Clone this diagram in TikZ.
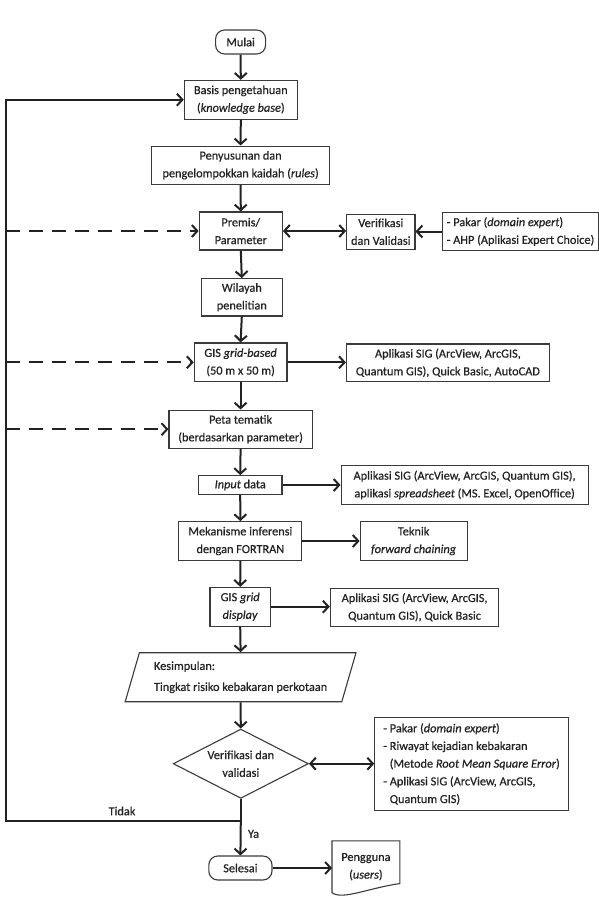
\documentclass[tikz,border=0pt]{standalone}
\usepackage{fontspec}
\setmainfont{Carlito}[UprightFeatures={FakeBold=0.6}, ItalicFeatures={FakeBold=0.6}]
\usepackage{tikz}
\usetikzlibrary{arrows.meta,shapes.geometric}
\definecolor{inkdark}{HTML}{222222}
\definecolor{boxline}{HTML}{3A3A3A}

\begin{document}
\begin{tikzpicture}[
    x=1pt, y=-1pt,
    font=\fontsize{12.3}{17.7}\selectfont,
    text=inkdark,
    stepbox/.style={
        rectangle,
        draw=boxline,
        line width=1.1pt,
        align=center,
        inner sep=0pt
    },
    listbox/.style={
        stepbox,
        align=left
    },
    terminal/.style={
        stepbox,
        rounded corners=9pt
    },
    decision/.style={
        diamond,
        draw=boxline,
        line width=1.1pt,
        align=center,
        inner sep=0pt,
        aspect=1.95
    },
    dataio/.style={
        trapezium,
        trapezium left angle=69,
        trapezium right angle=111,
        trapezium stretches=true,
        draw=boxline,
        line width=1.1pt,
        align=left,
        inner sep=0pt
    },
    arrow/.style={
        -{Straight Barb[length=5.5pt, width=12pt]},
        line width=2pt,
        color=inkdark
    },
    dblarrow/.style={
        {Straight Barb[length=5.5pt, width=12pt]}-{Straight Barb[length=5.5pt, width=12pt]},
        line width=2pt,
        color=inkdark
    },
    dasharrow/.style={
        arrow,
        dash pattern=on 14pt off 9pt
    }
]
    \useasboundingbox (0,0) rectangle (599,907);

    % Start and knowledge base
    \node[terminal, minimum width=50pt, minimum height=24pt] (mulai) at (240.6,42) {Mulai};
    \node[stepbox, minimum width=113pt, minimum height=38.7pt] (basis) at (240.8,99.7) {
        Basis pengetahuan\\(\textit{knowledge base})
    };
    \node[stepbox, minimum width=177.8pt, minimum height=38.3pt] (kaidah) at (240.6,165.2) {
        Penyusunan dan\\pengelompokkan kaidah (\textit{rules})
    };

    % Premises and their checks
    \node[stepbox, minimum width=83.2pt, minimum height=38pt] (premis) at (240.8,231) {
        Premis/\\Parameter
    };
    \node[stepbox, minimum width=68.3pt, minimum height=35.3pt] (verval) at (380.8,231.7) {
        Verifikasi\\dan Validasi
    };
    \node[listbox, minimum width=156pt, minimum height=37.7pt] (pakar) at (520.5,231.5) {
        - Pakar (\textit{domain expert})\\- AHP (Aplikasi Expert Choice)
    };
    \node[stepbox, minimum width=81.3pt, minimum height=37.3pt] (wilayah) at (241.8,297.3) {
        Wilayah\\penelitian
    };

    % GIS grid
    \node[stepbox, minimum width=92.7pt, minimum height=38.7pt] (gisgrid) at (240.6,362.3) {
        GIS \textit{grid-based}\\(50 m x 50 m)
    };
    \node[stepbox, minimum width=203pt, minimum height=37.7pt] (sigA) at (447.9,362.8) {
        Aplikasi SIG (ArcView, ArcGIS,\\Quantum GIS), Quick Basic, AutoCAD
    };
    \node[stepbox, minimum width=143.3pt, minimum height=38.3pt] (peta) at (240.6,429.2) {
        Peta tematik\\(berdasarkan parameter)
    };

    % Input and inference
    \node[stepbox, minimum width=83.5pt, minimum height=18.7pt] (input) at (240.2,485) {\textit{Input} data};
    \node[stepbox, minimum width=247pt, minimum height=38.7pt] (sigB) at (464.6,485) {
        Aplikasi SIG (ArcView, ArcGIS, Quantum GIS),\\aplikasi \textit{spreadsheet} (MS. Excel, OpenOffice)
    };
    \node[stepbox, minimum width=123pt, minimum height=38.7pt] (inferensi) at (240.4,541) {
        Mekanisme inferensi\\dengan FORTRAN
    };
    \node[stepbox, minimum width=106.9pt, minimum height=38.7pt] (teknik) at (413.6,541) {
        Teknik\\\textit{forward chaining}
    };
    \node[stepbox, minimum width=60.5pt, minimum height=38.7pt] (gisdisp) at (240.2,606.7) {
        GIS \textit{grid}\\\textit{display}
    };
    \node[stepbox, minimum width=168.6pt, minimum height=37.7pt] (sigC) at (414.6,607.2) {
        Aplikasi SIG (ArcView, ArcGIS,\\Quantum GIS), Quick Basic
    };

    % Result and validation
    \node[dataio, minimum width=231.4pt, minimum height=49pt] (kesimpulan) at (240.6,677.2) {
        Kesimpulan:\\[3.3pt]Tingkat risiko kebakaran perkotaan
    };
    \node[decision, minimum width=135.2pt, minimum height=69.3pt] (validasi) at (240.8,763.7) {
        Verifikasi dan\\validasi
    };
    \node[listbox, minimum width=193.5pt, minimum height=92.7pt] (sumber) at (471.5,764) {
        - Pakar (\textit{domain expert})\\
        - Riwayat kejadian kebakaran\\
        \phantom{- }(Metode \textit{Root Mean Square Error})\\
        - Aplikasi SIG (ArcView, ArcGIS,\\
        \phantom{- }Quantum GIS)
    };

    % End
    \node[terminal, minimum width=63.2pt, minimum height=24pt] (selesai) at (240.4,868) {Selesai};
    \node[minimum width=67.4pt, minimum height=51.4pt, inner sep=0pt, align=center] (pengguna) at (365.9,866.7) {
        Pengguna\\(\textit{users})
    };
    \draw[draw=boxline, line width=1.1pt] (pengguna.north west) -- (pengguna.north east)
        -- ([yshift=9pt]pengguna.south east) .. controls +(-30,4) and +(10,8) .. (pengguna.south west) -- cycle;

    \coordinate (junction) at (240.8,820.7);
    \coordinate (loopbottom) at (5.7,820.7);
    \node (tidak) at (122,811) {Tidak};

    % Arrows
    \draw[arrow] (mulai.south) -- (basis.north);
    \draw[arrow] (basis.south) -- (kaidah.north);
    \draw[arrow] (kaidah.south) -- (premis.north);
    \draw[dblarrow] (premis.east) -- (premis.east -| verval.west);
    \draw[arrow] (pakar.west) -- (pakar.west -| verval.east);
    \draw[arrow] (premis.south) -- (wilayah.north);
    \draw[arrow] (wilayah.south) -- (gisgrid.north);
    \draw[arrow] (gisgrid.east) -- (gisgrid.east -| sigA.west);
    \draw[arrow] (gisgrid.south) -- (peta.north);
    \draw[arrow] (peta.south) -- (input.north);
    \draw[arrow] (input.east) -- (input.east -| sigB.west);
    \draw[arrow] (input.south) -- (inferensi.north);
    \draw[arrow] (inferensi.east) -- (inferensi.east -| teknik.west);
    \draw[arrow] (inferensi.south) -- (gisdisp.north);
    \draw[arrow] (gisdisp.east) -- (gisdisp.east -| sigC.west);
    \draw[arrow] (gisdisp.south) -- (kesimpulan.north);
    \draw[arrow] (kesimpulan.south) -- (validasi.north);
    \draw[dblarrow] (validasi.east) -- (validasi.east -| sumber.west);
    \draw[arrow] (validasi.south) -- (junction) -- (loopbottom) -- (loopbottom |- basis.west) -- (basis.west);
    \draw[arrow] (junction) -- node[right=3pt, pos=0.38] (ya) {Ya} (selesai.north);
    \draw[arrow] (selesai.east) -- (selesai.east -| pengguna.west);

    % Dashed feedback
    \draw[dasharrow] (loopbottom |- premis.west) -- (premis.west);
    \draw[dasharrow] (loopbottom |- gisgrid.west) -- (gisgrid.west);
    \draw[dasharrow] (loopbottom |- peta.west) -- (peta.west);
\end{tikzpicture}
\end{document}
